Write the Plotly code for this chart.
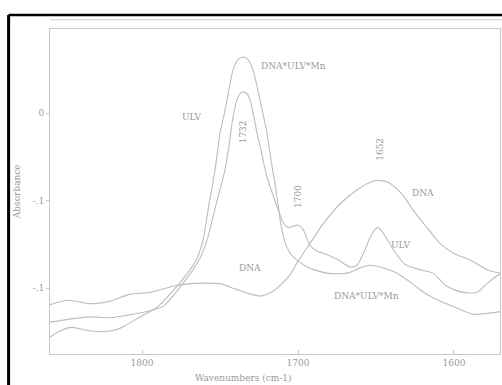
import plotly.graph_objects as go

# ---- data (wavenumber cm-1, absorbance) ----
dna_x = [1859, 1847.4, 1833.3, 1820.5, 1807.7, 1794.9, 1780.1, 1769.2, 1750.0, 1740.4, 1730.8,
         1723.1, 1714.7, 1711.5, 1705.1, 1700.6, 1692.3, 1684.0, 1673.1, 1662.2, 1653.8, 1648.7,
         1642.3, 1636.5, 1631.4, 1626.3, 1617.3, 1609.0, 1600.6, 1589.7, 1578.8, 1570.5]
dna_y = [-0.219, -0.214, -0.218, -0.215, -0.207, -0.205, -0.198, -0.195, -0.195, -0.201, -0.207,
         -0.209, -0.202, -0.197, -0.185, -0.171, -0.149, -0.127, -0.104, -0.088, -0.079, -0.077,
         -0.079, -0.087, -0.097, -0.111, -0.131, -0.149, -0.160, -0.168, -0.179, -0.183]

ulv_x = [1859, 1844.2, 1833.3, 1820.5, 1805.8, 1794.9, 1786.5, 1780.1, 1775.6, 1767.3, 1762.8,
         1758.3, 1752.6, 1746.8, 1744.2, 1741.7, 1739.1, 1737.2, 1735.3, 1732.7, 1730.8, 1728.2,
         1726.3, 1723.7, 1721.8, 1719.2, 1716.0, 1712.2, 1709.0, 1705.8, 1702.6, 1700.0, 1696.8,
         1692.3, 1687.8, 1684.0, 1675.0, 1666.7, 1662.2, 1657.7, 1653.8, 1650.6, 1648.7, 1646.2,
         1642.3, 1637.8, 1631.4, 1621.8, 1613.5, 1604.5, 1594.2, 1585.3, 1578.8, 1572.4, 1570.5]
ulv_y = [-0.239, -0.235, -0.233, -0.234, -0.230, -0.226, -0.221, -0.209, -0.199, -0.179, -0.166,
         -0.145, -0.105, -0.065, -0.037, -0.005, 0.015, 0.022, 0.024, 0.022, 0.015, -0.005,
         -0.023, -0.042, -0.059, -0.077, -0.094, -0.113, -0.127, -0.131, -0.129, -0.128, -0.133,
         -0.151, -0.158, -0.160, -0.167, -0.176, -0.174, -0.159, -0.142, -0.133, -0.131, -0.135,
         -0.146, -0.159, -0.173, -0.179, -0.183, -0.198, -0.205, -0.205, -0.195, -0.186, -0.184]

mn_x = [1859, 1852.6, 1844.9, 1836.5, 1826.9, 1817.3, 1810.9, 1801.3, 1790.4, 1780.1, 1769.2,
        1764.7, 1760.9, 1757.1, 1753.2, 1750.0, 1747.4, 1745.5, 1741.7, 1738.5, 1735.3, 1732.1,
        1728.8, 1724.4, 1719.9, 1717.3, 1714.1, 1710.9, 1707.7, 1703.8, 1694.2, 1681.4, 1668.6,
        1660.3, 1653.8, 1647.4, 1636.5, 1628.2, 1621.8, 1613.5, 1600.6, 1587.8, 1578.8, 1570.5]
mn_y = [-0.256, -0.249, -0.245, -0.248, -0.250, -0.248, -0.243, -0.233, -0.222, -0.203, -0.179,
        -0.166, -0.145, -0.105, -0.065, -0.023, -0.002, 0.015, 0.049, 0.061, 0.064, 0.061,
        0.049, 0.015, -0.023, -0.054, -0.088, -0.128, -0.151, -0.163, -0.176, -0.183, -0.183,
        -0.177, -0.174, -0.176, -0.183, -0.193, -0.202, -0.211, -0.221, -0.230, -0.229, -0.227]

y_tickvals = [0, -0.1, -0.2]
y_ticktext = ["0", "-.1", "-.1"]
x_tickvals = [1800, 1700, 1600]
x_ticktext = ["1800", "1700", "1600"]

LINE = "#bdbdbd"
TXT = "#9a9a9a"
FONT = "DejaVu Serif"

fig = go.Figure()
for xs, ys, nm in [(dna_x, dna_y, "DNA"), (ulv_x, ulv_y, "ULV"), (mn_x, mn_y, "DNA*ULV*Mn")]:
    fig.add_trace(go.Scatter(x=xs, y=ys, mode="lines", name=nm,
                             line=dict(color=LINE, width=1.1, shape="spline", smoothing=0.7),
                             showlegend=False, hoverinfo="skip"))

labels = [
    ("DNA*ULV*Mn", 1702.6, 0.054, 0),
    ("ULV", 1768.0, -0.005, 0),
    ("1732", 1735.3, -0.021, -90),
    ("1700", 1700.0, -0.096, -90),
    ("1652", 1647.4, -0.042, -90),
    ("DNA", 1619.9, -0.091, 0),
    ("ULV", 1634.6, -0.151, 0),
    ("DNA*ULV*Mn", 1655.8, -0.209, 0),
    ("DNA", 1730.8, -0.177, 0),
]
for t, x, y, ang in labels:
    fig.add_annotation(x=x, y=y, text=t, showarrow=False, textangle=ang,
                       font=dict(family=FONT, size=9, color=TXT))

# axis titles
fig.add_annotation(xref="paper", yref="paper", x=-0.074, y=0.50, xanchor="center",
                   text="Absorbance", textangle=-90, showarrow=False,
                   font=dict(family=FONT, size=9, color=TXT))
fig.add_annotation(xref="paper", yref="paper", x=0.43, y=-0.074, yanchor="middle",
                   text="Wavenumbers (cm-1)", showarrow=False,
                   font=dict(family=FONT, size=9, color=TXT))

# scan border (black) and faint top line
fig.add_shape(type="line", xref="paper", yref="paper", x0=-0.092, x1=-0.092, y0=1.043, y1=-0.12,
              line=dict(color="black", width=3))
fig.add_shape(type="line", xref="paper", yref="paper", x0=-0.092, x1=1.01, y0=1.043, y1=1.043,
              line=dict(color="black", width=2.5))
fig.add_shape(type="line", xref="paper", yref="paper", x0=0.0, x1=1.01, y0=1.029, y1=1.029,
              line=dict(color="#dcdcdc", width=1.2))

fig.update_xaxes(range=[1859, 1570.5], tickvals=x_tickvals, ticktext=x_ticktext,
                 showgrid=False, zeroline=False, showline=True, linecolor="#c8c8c8", linewidth=1,
                 mirror=True, ticks="inside", ticklen=4, tickcolor="#c8c8c8",
                 tickfont=dict(family=FONT, size=9, color=TXT))
fig.update_yaxes(range=[-0.2754, 0.096], tickvals=y_tickvals, ticktext=y_ticktext,
                 showgrid=False, zeroline=False, showline=True, linecolor="#c8c8c8", linewidth=1,
                 mirror=True, ticks="outside", ticklen=3, tickcolor="#c8c8c8",
                 tickfont=dict(family=FONT, size=9, color=TXT))

fig.update_layout(width=502, height=385, margin=dict(l=50, r=2, t=29, b=31),
                  paper_bgcolor="white", plot_bgcolor="white")
fig.write_html("out.html")
